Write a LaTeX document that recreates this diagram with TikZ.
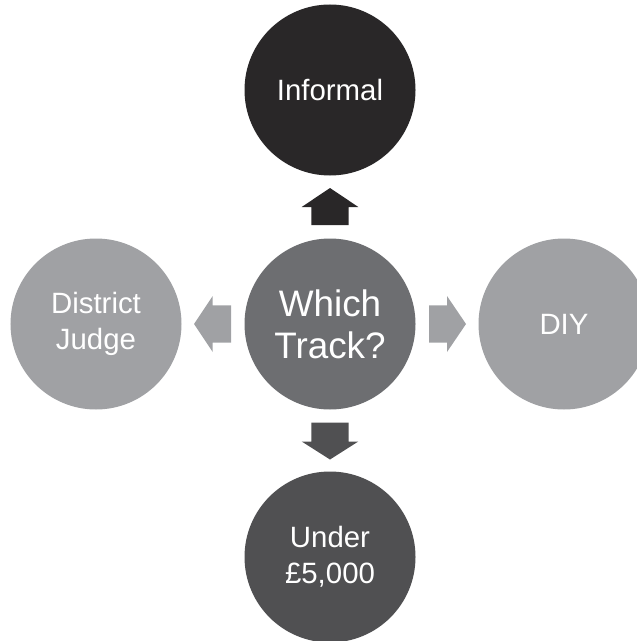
\documentclass[tikz,border=0pt]{standalone}
\usepackage{fontspec}
\setmainfont{Liberation Sans}
\definecolor{cTop}{HTML}{292728}
\definecolor{cMid}{HTML}{6D6E71}
\definecolor{cLight}{HTML}{A0A1A4}
\definecolor{cBot}{HTML}{505052}
\tikzset{
  bubble/.style={circle, minimum size=171bp, inner sep=0pt, text=white, align=center,
    font=\fontsize{29.5}{36}\selectfont},
  bigbubble/.style={bubble, font=\fontsize{37}{42}\selectfont},
}
\begin{document}
\begin{tikzpicture}[x=1bp,y=-1bp]
\useasboundingbox (0,0) rectangle (637,641);
\begin{scope}
\clip (0,0) rectangle (637,641);
\node[bigbubble, fill=cMid] (mid) at (330,324) {Which\\Track?};
\node[bubble, fill=cTop] (top) at (330,90) {Informal};
\node[bubble, fill=cLight] (left) at (96,324) {District\\Judge};
\node[bubble, fill=cLight] (right) at (564,324) {DIY};
\node[bubble, fill=cBot] (bot) at (330,557) {Under\\£5,000};
% block arrows
\fill[cTop] (330,188) -- (358.3,207) -- (348.7,207) -- (348.7,225) -- (311.3,225) -- (311.3,207) -- (301.7,207) -- cycle;
\fill[cBot] (330,459.5) -- (358.3,441.5) -- (348.7,441.5) -- (348.7,422.5) -- (311.3,422.5) -- (311.3,441.5) -- (301.7,441.5) -- cycle;
\fill[cLight] (194,324) -- (212.7,296) -- (212.7,305.3) -- (231,305.3) -- (231,342.7) -- (212.7,342.7) -- (212.7,352) -- cycle;
\fill[cLight] (466,324) -- (447,296) -- (447,305.3) -- (429,305.3) -- (429,342.7) -- (447,342.7) -- (447,352) -- cycle;
\end{scope}
\end{tikzpicture}
\end{document}
